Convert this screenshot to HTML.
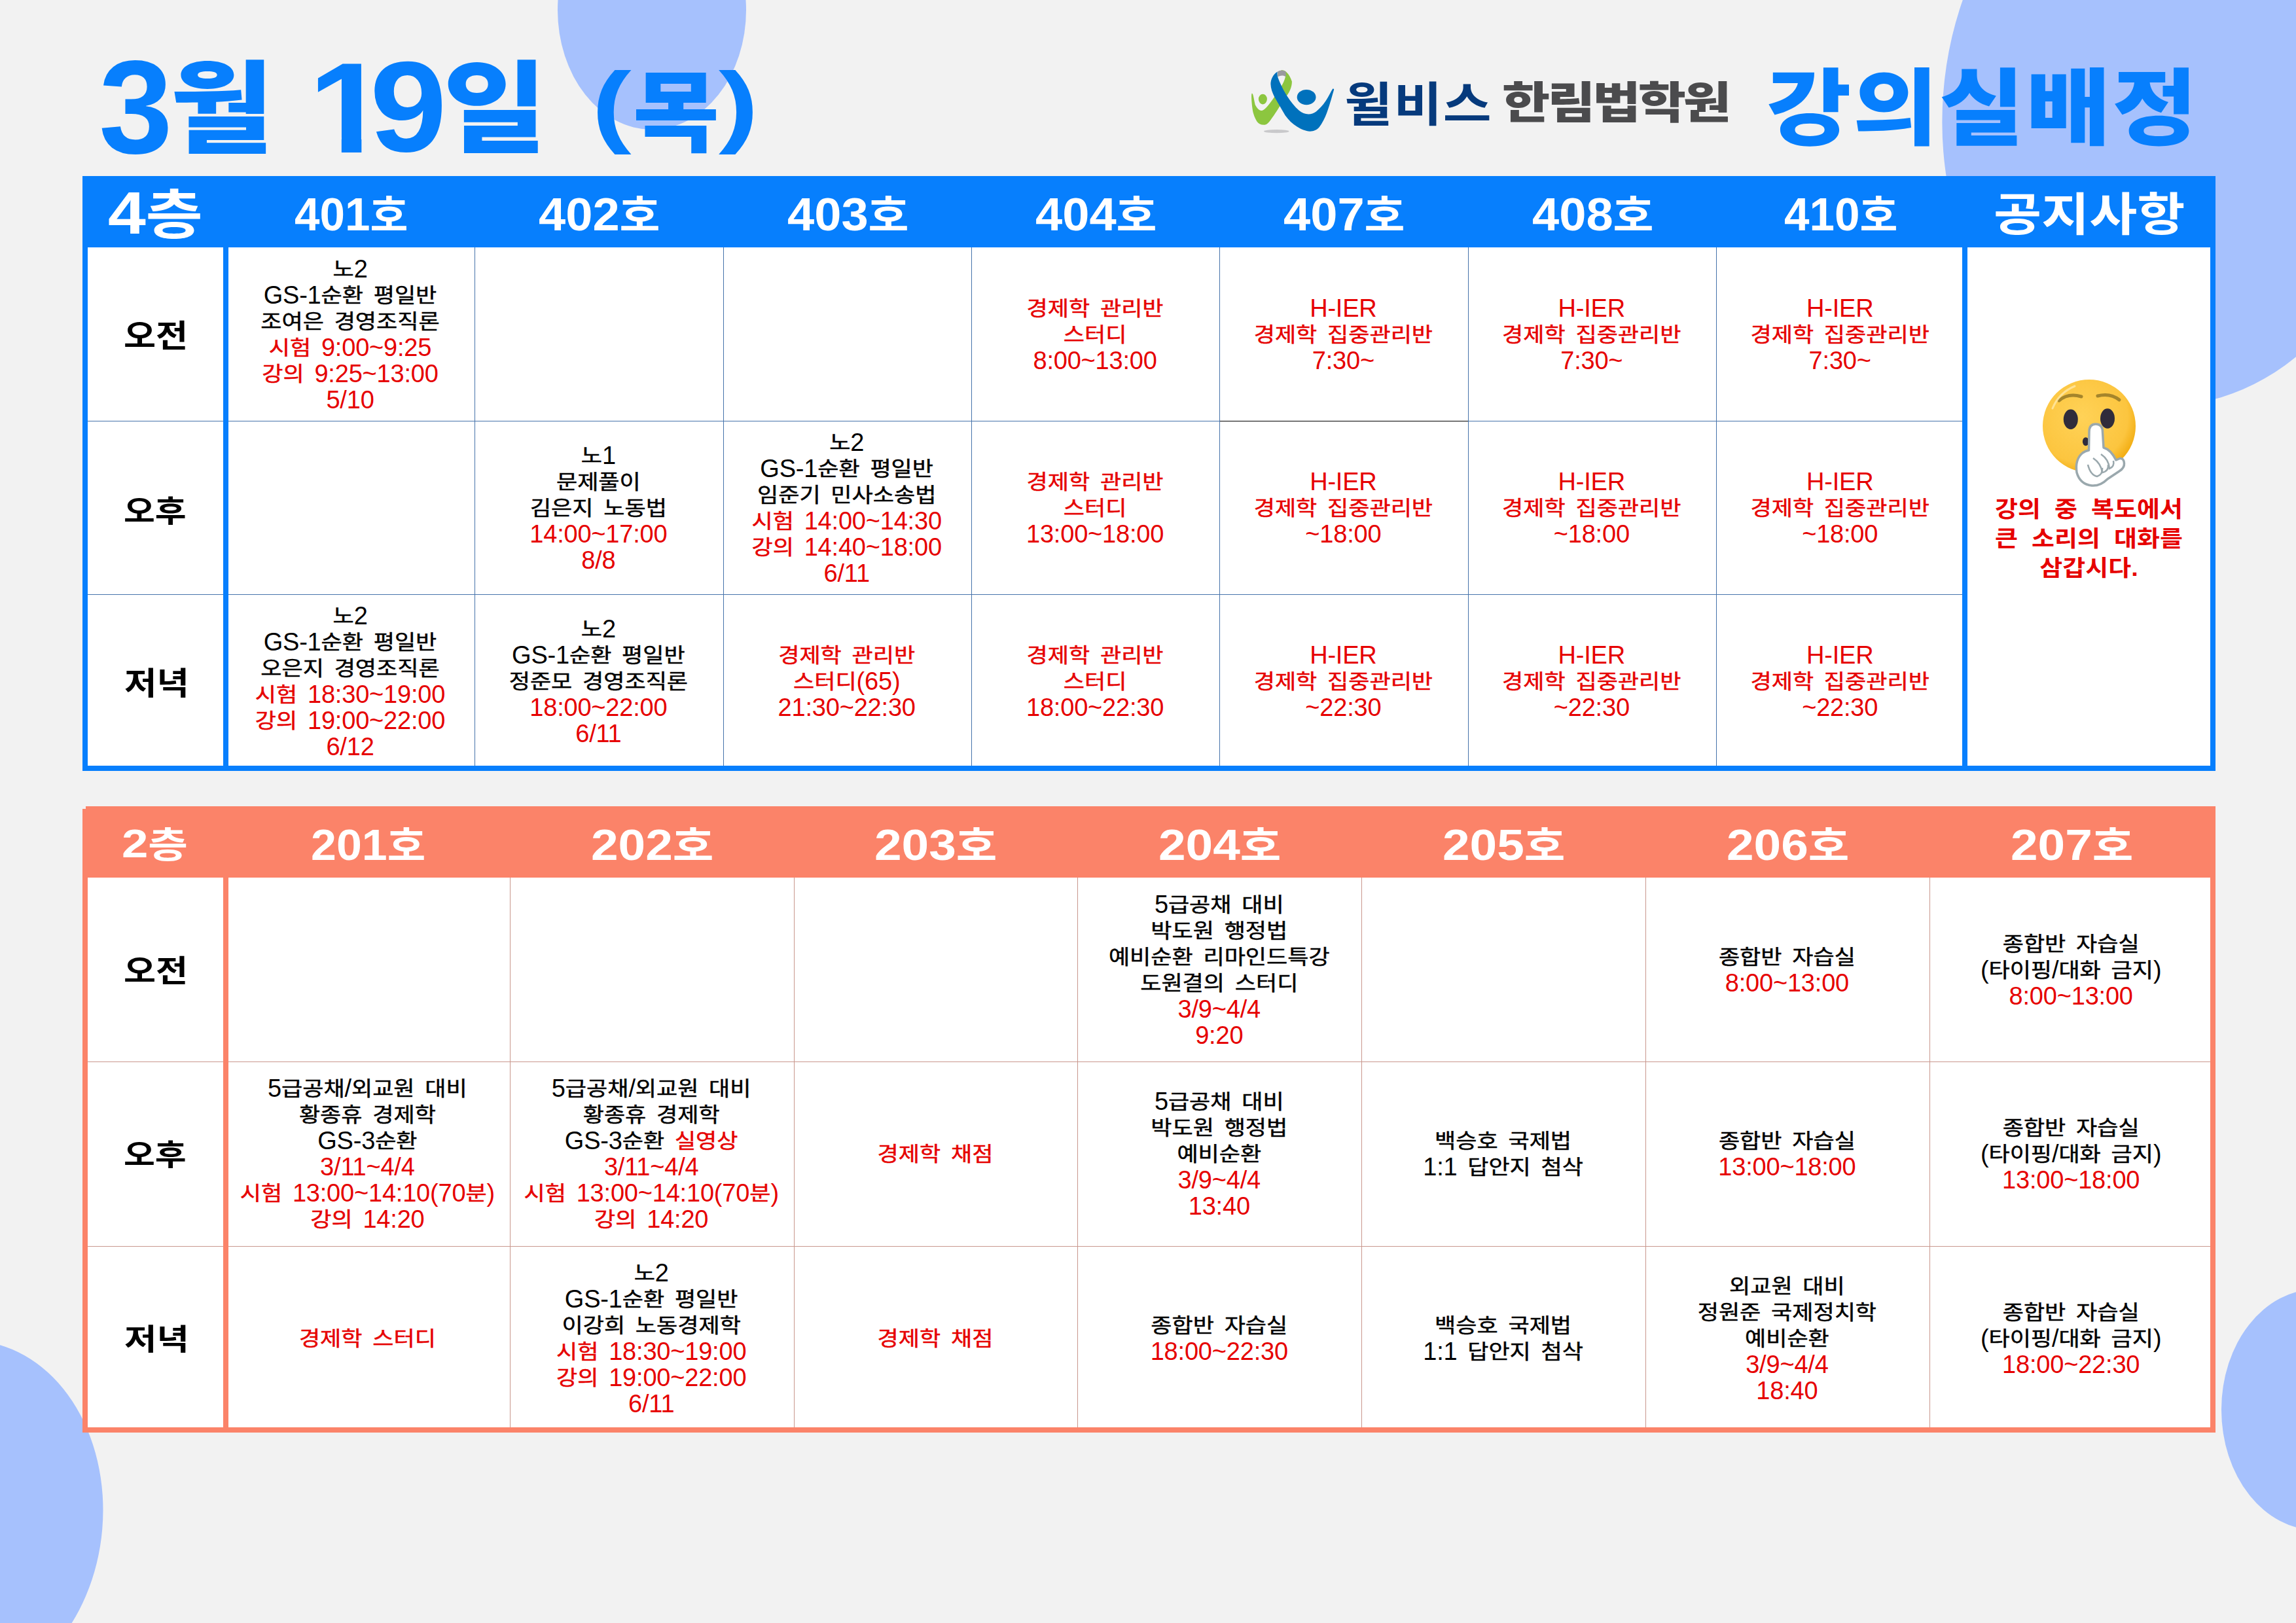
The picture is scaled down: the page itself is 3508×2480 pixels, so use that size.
<!DOCTYPE html><html lang="ko"><head><meta charset="utf-8"><title>3월 19일 (목) 강의실배정</title><style>
*{margin:0;padding:0;box-sizing:border-box}
html,body{width:3508px;height:2480px;overflow:hidden;background:#f2f2f2}
body{position:relative;font-family:"Liberation Sans","Noto Sans CJK KR",sans-serif;color:#000}
.abs{position:absolute}
.ell{position:absolute;border-radius:50%;background:#a6c1fd}
.cell{position:absolute;display:flex;align-items:center;justify-content:center;text-align:center;font-size:35px;line-height:40px;word-spacing:6px;white-space:nowrap}
.r{color:#e60000}
.vl,.hl{position:absolute}
.ft{position:absolute;line-height:1;white-space:nowrap;transform-origin:0 0}
.cell .d{font-size:38px;letter-spacing:-.2px;line-height:0}
.nl{transform:scaleY(.91)}
.k{display:inline-block;transform:translateY(-.4px) scaleY(.875);-webkit-text-stroke:.55px}
</style></head><body>
<div class="ell" style="left:852.0px;top:-167.2px;width:288.0px;height:365.4px;transform:rotate(0deg)"></div>
<div class="ell" style="left:2968.0px;top:-280.0px;width:710.0px;height:900.0px;transform:rotate(4.3deg)"></div>
<div class="ell" style="left:-270.1px;top:2048.0px;width:427.2px;height:541.4px;transform:rotate(4.9deg)"></div>
<div class="ell" style="left:3394.0px;top:1969.5px;width:290.0px;height:368.0px;transform:rotate(0deg)"></div>
<div id="t1" aria-label="3월 19일 (목)">
<div class="ft" style="left:150.6px;top:63.3px;font-size:202.3px;font-weight:700;color:#077ffd;transform:scaleX(1.002);">3</div>
<div class="ft" style="left:260.2px;top:91.3px;font-size:153.2px;font-weight:900;color:#077ffd;transform:scaleX(1.117);">월</div>
<div class="ft" style="left:470.6px;top:66.1px;font-size:197.5px;font-weight:700;color:#077ffd;transform:scaleX(1.105);clip-path:polygon(0 0,120px 0,120px 144px,73.6px 144px,73.6px 200px,46px 200px,46px 144px,0 144px)">1</div>
<div class="ft" style="left:564.6px;top:65.0px;font-size:196.5px;font-weight:700;color:#077ffd;transform:scaleX(1.077);">9</div>
<div class="ft" style="left:677.2px;top:92.0px;font-size:152.9px;font-weight:900;color:#077ffd;transform:scaleX(1.127);">일</div>
<div class="ft" style="left:904.2px;top:91.2px;font-size:137.4px;font-weight:700;color:#077ffd;transform:scaleX(1.325);">(</div>
<div class="ft" style="left:967.0px;top:106.7px;font-size:135.7px;font-weight:900;color:#077ffd;transform:scaleX(1.058);">목</div>
<div class="ft" style="left:1097.6px;top:91.2px;font-size:137.4px;font-weight:700;color:#077ffd;transform:scaleX(1.333);">)</div>
</div>
<div class="ft" style="left:2699.4px;top:103.8px;font-size:127.1px;font-weight:900;color:#077ffd;transform:scaleX(1.106);letter-spacing:0.02em">강의실배정</div>
<svg class="abs" id="logo" style="left:1900px;top:95px" width="150" height="120" viewBox="0 0 150 120"><ellipse cx="50.3" cy="105.7" rx="19.2" ry="2.6" fill="#c9c9cb"/><path d="M12.6 47.7 C14.5 47 15 52 17.7 65 C21 71 24 74.5 28.1 73.9 C33 73 40 63 45.5 55.4 L57.7 37 C60 33 63 27 64 22 C61 17 56 18 52.5 21 C52 17 56 12.5 58.5 12.3 C64 12 70 18 73.9 29.6 C74 38 70 46 66.2 51 L54 69.5 C48 79 44 85 39.9 90.2 C36 95 33 96 31 95.7 C26 95.5 23 94 20.7 90.9 C16.5 84 14.8 78 14 73.9 C12.6 65 11.3 50 12.6 47.7Z" fill="#8cc63f"/><path d="M52 14.6 C55 12 61 11.6 64.6 14.6 L64.8 22.5 C61 19.8 56 20 52.3 22.6Z" fill="#9a9a9e"/><ellipse cx="29.4" cy="56.6" rx="6.5" ry="7.8" fill="#8cc63f"/><path d="M51.7 14.4 C45 19 41.5 26 41.4 33.3 C41.5 40 44 47 47.3 53.2 L63.6 81.3 C69 89 75 94.5 81.3 98.3 C88 102.5 95 105.5 101.3 105.7 C107 105.8 112 103.5 115.3 99.8 C120 94 124 86 127.2 77.6 C131 67 133.5 58 135.3 51.7 C136.5 47 138 43 138.2 41.4 C137.5 40.3 136.5 40.5 136 41 C133 46 129.5 53 125.7 59.1 C121 66 116 71.5 110.9 75.4 C107 78.3 103 79.6 99.1 79.5 C94 79.3 89 77 85 73.9 C78 68 72 60 66.5 51.7 C62.5 45.5 59 39 56.2 32.5 C54.5 28.5 53 25 52.1 22.2 C51.5 19.5 51.4 16.5 51.7 14.4Z" fill="#0071bc"/><ellipse cx="96.1" cy="53.6" rx="14.4" ry="11.7" fill="#0071bc"/></svg>
<div class="ft" style="left:2054.1px;top:124.6px;font-size:71.5px;font-weight:700;color:#063a7c;transform:scaleX(1.122);letter-spacing:0.02em">윌비스</div>
<div class="ft" style="left:2295.2px;top:125.3px;font-size:66.7px;font-weight:900;color:#4b4b4d;transform:scaleX(1.193);letter-spacing:-0.05em">한림법학원</div>
<div class="abs" style="left:126px;top:269px;width:3259px;height:909px;background:#077ffd"></div>
<div class="abs" style="left:134px;top:378px;width:207px;height:792px;background:#fff"></div>
<div class="abs" style="left:349px;top:378px;width:2649px;height:792px;background:#fff"></div>
<div class="abs" style="left:3006px;top:378px;width:371px;height:792px;background:#fff"></div>
<div class="vl" style="left:725px;top:378px;width:1px;height:792px;background:#4673ab"></div>
<div class="vl" style="left:1105px;top:378px;width:1px;height:792px;background:#4673ab"></div>
<div class="vl" style="left:1484px;top:378px;width:1px;height:792px;background:#4673ab"></div>
<div class="vl" style="left:1863px;top:378px;width:1px;height:792px;background:#4673ab"></div>
<div class="vl" style="left:2243px;top:378px;width:1px;height:792px;background:#4673ab"></div>
<div class="vl" style="left:2622px;top:378px;width:1px;height:792px;background:#4673ab"></div>
<div class="hl" style="left:134px;top:643px;width:207px;height:1px;background:#4673ab"></div>
<div class="hl" style="left:349px;top:643px;width:2649px;height:1px;background:#4673ab"></div>
<div class="hl" style="left:134px;top:908px;width:207px;height:1px;background:#4673ab"></div>
<div class="hl" style="left:349px;top:908px;width:2649px;height:1px;background:#4673ab"></div>
<div class="ft" style="left:165.4px;top:280.5px;font-size:81.8px;font-weight:700;color:#fff;transform:scaleX(1.156);"><span style="font-size:1.1em">4</span>층</div>
<div class="ft" style="left:450.0px;top:294.0px;font-size:63.3px;font-weight:700;color:#fff;transform:scaleX(0.994);"><span style="font-size:1.1em">401</span>호</div>
<div class="ft" style="left:823.3px;top:294.0px;font-size:63.3px;font-weight:700;color:#fff;transform:scaleX(1.064);"><span style="font-size:1.1em">402</span>호</div>
<div class="ft" style="left:1202.7px;top:294.0px;font-size:63.3px;font-weight:700;color:#fff;transform:scaleX(1.064);"><span style="font-size:1.1em">403</span>호</div>
<div class="ft" style="left:1582.0px;top:294.0px;font-size:63.3px;font-weight:700;color:#fff;transform:scaleX(1.064);"><span style="font-size:1.1em">404</span>호</div>
<div class="ft" style="left:1961.4px;top:294.0px;font-size:63.3px;font-weight:700;color:#fff;transform:scaleX(1.064);"><span style="font-size:1.1em">407</span>호</div>
<div class="ft" style="left:2340.8px;top:294.0px;font-size:63.3px;font-weight:700;color:#fff;transform:scaleX(1.064);"><span style="font-size:1.1em">408</span>호</div>
<div class="ft" style="left:2726.2px;top:294.0px;font-size:63.3px;font-weight:700;color:#fff;transform:scaleX(0.994);"><span style="font-size:1.1em">410</span>호</div>
<div class="ft" style="left:189.4px;top:488.8px;font-size:48.1px;font-weight:700;color:#000;transform:scaleX(1.109);">오전</div>
<div class="ft" style="left:189.4px;top:757.8px;font-size:46.0px;font-weight:700;color:#000;transform:scaleX(1.130);">오후</div>
<div class="ft" style="left:189.9px;top:1020.8px;font-size:48.0px;font-weight:700;color:#000;transform:scaleX(1.119);">저녁</div>
<div class="cell" style="left:345.3px;top:379.0px;width:379.4px;height:265.4px"><div><div><span class="k">노</span><span class="d">2</span></div><div><span class="d">GS-1</span><span class="k">순환</span> <span class="k">평일반</span></div><div><span class="k">조여은</span> <span class="k">경영조직론</span></div><div class="r"><span class="k">시험</span> <span class="d">9:00~9:25</span></div><div class="r"><span class="k">강의</span> <span class="d">9:25~13:00</span></div><div class="r"><span class="d">5/10</span></div></div></div>
<div class="cell" style="left:1483.4px;top:379.0px;width:379.4px;height:265.4px"><div><div class="r"><span class="k">경제학</span> <span class="k">관리반</span></div><div class="r"><span class="k">스터디</span></div><div class="r"><span class="d">8:00~13:00</span></div></div></div>
<div class="cell" style="left:1862.7px;top:379.0px;width:379.4px;height:265.4px"><div><div class="r"><span class="d">H-IER</span></div><div class="r"><span class="k">경제학</span> <span class="k">집중관리반</span></div><div class="r"><span class="d">7:30~</span></div></div></div>
<div class="cell" style="left:2242.1px;top:379.0px;width:379.4px;height:265.4px"><div><div class="r"><span class="d">H-IER</span></div><div class="r"><span class="k">경제학</span> <span class="k">집중관리반</span></div><div class="r"><span class="d">7:30~</span></div></div></div>
<div class="cell" style="left:2621.5px;top:379.0px;width:379.4px;height:265.4px"><div><div class="r"><span class="d">H-IER</span></div><div class="r"><span class="k">경제학</span> <span class="k">집중관리반</span></div><div class="r"><span class="d">7:30~</span></div></div></div>
<div class="cell" style="left:724.7px;top:644.4px;width:379.4px;height:265.2px"><div><div><span class="k">노</span><span class="d">1</span></div><div><span class="k">문제풀이</span></div><div><span class="k">김은지</span> <span class="k">노동법</span></div><div class="r"><span class="d">14:00~17:00</span></div><div class="r"><span class="d">8/8</span></div></div></div>
<div class="cell" style="left:1104.0px;top:644.4px;width:379.4px;height:265.2px"><div><div><span class="k">노</span><span class="d">2</span></div><div><span class="d">GS-1</span><span class="k">순환</span> <span class="k">평일반</span></div><div><span class="k">임준기</span> <span class="k">민사소송법</span></div><div class="r"><span class="k">시험</span> <span class="d">14:00~14:30</span></div><div class="r"><span class="k">강의</span> <span class="d">14:40~18:00</span></div><div class="r"><span class="d">6/11</span></div></div></div>
<div class="cell" style="left:1483.4px;top:644.4px;width:379.4px;height:265.2px"><div><div class="r"><span class="k">경제학</span> <span class="k">관리반</span></div><div class="r"><span class="k">스터디</span></div><div class="r"><span class="d">13:00~18:00</span></div></div></div>
<div class="cell" style="left:1862.7px;top:644.4px;width:379.4px;height:265.2px"><div><div class="r"><span class="d">H-IER</span></div><div class="r"><span class="k">경제학</span> <span class="k">집중관리반</span></div><div class="r"><span class="d">~18:00</span></div></div></div>
<div class="cell" style="left:2242.1px;top:644.4px;width:379.4px;height:265.2px"><div><div class="r"><span class="d">H-IER</span></div><div class="r"><span class="k">경제학</span> <span class="k">집중관리반</span></div><div class="r"><span class="d">~18:00</span></div></div></div>
<div class="cell" style="left:2621.5px;top:644.4px;width:379.4px;height:265.2px"><div><div class="r"><span class="d">H-IER</span></div><div class="r"><span class="k">경제학</span> <span class="k">집중관리반</span></div><div class="r"><span class="d">~18:00</span></div></div></div>
<div class="cell" style="left:345.3px;top:909.6px;width:379.4px;height:265.4px"><div><div><span class="k">노</span><span class="d">2</span></div><div><span class="d">GS-1</span><span class="k">순환</span> <span class="k">평일반</span></div><div><span class="k">오은지</span> <span class="k">경영조직론</span></div><div class="r"><span class="k">시험</span> <span class="d">18:30~19:00</span></div><div class="r"><span class="k">강의</span> <span class="d">19:00~22:00</span></div><div class="r"><span class="d">6/12</span></div></div></div>
<div class="cell" style="left:724.7px;top:909.6px;width:379.4px;height:265.4px"><div><div><span class="k">노</span><span class="d">2</span></div><div><span class="d">GS-1</span><span class="k">순환</span> <span class="k">평일반</span></div><div><span class="k">정준모</span> <span class="k">경영조직론</span></div><div class="r"><span class="d">18:00~22:00</span></div><div class="r"><span class="d">6/11</span></div></div></div>
<div class="cell" style="left:1104.0px;top:909.6px;width:379.4px;height:265.4px"><div><div class="r"><span class="k">경제학</span> <span class="k">관리반</span></div><div class="r"><span class="k">스터디</span><span class="d">(65)</span></div><div class="r"><span class="d">21:30~22:30</span></div></div></div>
<div class="cell" style="left:1483.4px;top:909.6px;width:379.4px;height:265.4px"><div><div class="r"><span class="k">경제학</span> <span class="k">관리반</span></div><div class="r"><span class="k">스터디</span></div><div class="r"><span class="d">18:00~22:30</span></div></div></div>
<div class="cell" style="left:1862.7px;top:909.6px;width:379.4px;height:265.4px"><div><div class="r"><span class="d">H-IER</span></div><div class="r"><span class="k">경제학</span> <span class="k">집중관리반</span></div><div class="r"><span class="d">~22:30</span></div></div></div>
<div class="cell" style="left:2242.1px;top:909.6px;width:379.4px;height:265.4px"><div><div class="r"><span class="d">H-IER</span></div><div class="r"><span class="k">경제학</span> <span class="k">집중관리반</span></div><div class="r"><span class="d">~22:30</span></div></div></div>
<div class="cell" style="left:2621.5px;top:909.6px;width:379.4px;height:265.4px"><div><div class="r"><span class="d">H-IER</span></div><div class="r"><span class="k">경제학</span> <span class="k">집중관리반</span></div><div class="r"><span class="d">~22:30</span></div></div></div>
<div class="abs" style="left:1864px;top:643px;width:379px;height:1px;background:#000"></div>
<div class="ft" style="left:3046.4px;top:293.6px;font-size:70.7px;font-weight:700;color:#fff;transform:scaleX(1.124);">공지사항</div>
<div class="abs" style="left:126px;top:1232px;width:3259px;height:957px;background:#fb8369"></div>
<div class="abs" style="left:134px;top:1341px;width:207px;height:840px;background:#fff"></div>
<div class="abs" style="left:349px;top:1341px;width:3028px;height:840px;background:#fff"></div>
<div class="vl" style="left:779px;top:1341px;width:1px;height:840px;background:#c9978d"></div>
<div class="vl" style="left:1213px;top:1341px;width:1px;height:840px;background:#c9978d"></div>
<div class="vl" style="left:1646px;top:1341px;width:1px;height:840px;background:#c9978d"></div>
<div class="vl" style="left:2080px;top:1341px;width:1px;height:840px;background:#c9978d"></div>
<div class="vl" style="left:2514px;top:1341px;width:1px;height:840px;background:#c9978d"></div>
<div class="vl" style="left:2948px;top:1341px;width:1px;height:840px;background:#c9978d"></div>
<div class="hl" style="left:134px;top:1622px;width:207px;height:1px;background:#c9978d"></div>
<div class="hl" style="left:349px;top:1622px;width:3028px;height:1px;background:#c9978d"></div>
<div class="hl" style="left:134px;top:1904px;width:207px;height:1px;background:#c9978d"></div>
<div class="hl" style="left:349px;top:1904px;width:3028px;height:1px;background:#c9978d"></div>
<div class="ft" style="left:186.1px;top:1259.2px;font-size:55.0px;font-weight:700;color:#fff;transform:scaleX(1.199);"><span style="font-size:1.1em">2</span>층</div>
<div class="ft" style="left:474.9px;top:1258.3px;font-size:60.6px;font-weight:700;color:#fff;transform:scaleX(1.049);"><span style="font-size:1.1em">201</span>호</div>
<div class="ft" style="left:902.5px;top:1258.3px;font-size:60.6px;font-weight:700;color:#fff;transform:scaleX(1.123);"><span style="font-size:1.1em">202</span>호</div>
<div class="ft" style="left:1336.3px;top:1258.3px;font-size:60.6px;font-weight:700;color:#fff;transform:scaleX(1.123);"><span style="font-size:1.1em">203</span>호</div>
<div class="ft" style="left:1770.1px;top:1258.3px;font-size:60.6px;font-weight:700;color:#fff;transform:scaleX(1.123);"><span style="font-size:1.1em">204</span>호</div>
<div class="ft" style="left:2203.9px;top:1258.3px;font-size:60.6px;font-weight:700;color:#fff;transform:scaleX(1.123);"><span style="font-size:1.1em">205</span>호</div>
<div class="ft" style="left:2637.7px;top:1258.3px;font-size:60.6px;font-weight:700;color:#fff;transform:scaleX(1.123);"><span style="font-size:1.1em">206</span>호</div>
<div class="ft" style="left:3071.5px;top:1258.3px;font-size:60.6px;font-weight:700;color:#fff;transform:scaleX(1.123);"><span style="font-size:1.1em">207</span>호</div>
<div class="ft" style="left:189.4px;top:1461.3px;font-size:46.4px;font-weight:700;color:#000;transform:scaleX(1.149);">오전</div>
<div class="ft" style="left:189.4px;top:1743.1px;font-size:45.4px;font-weight:700;color:#000;transform:scaleX(1.146);">오후</div>
<div class="ft" style="left:189.9px;top:2025.3px;font-size:45.5px;font-weight:700;color:#000;transform:scaleX(1.180);">저녁</div>
<div class="cell" style="left:1645.9px;top:1342.0px;width:433.8px;height:281.4px"><div><div><span class="d">5</span><span class="k">급공채</span> <span class="k">대비</span></div><div><span class="k">박도원</span> <span class="k">행정법</span></div><div><span class="k">예비순환</span> <span class="k">리마인드특강</span></div><div><span class="k">도원결의</span> <span class="k">스터디</span></div><div class="r"><span class="d">3/9~4/4</span></div><div class="r"><span class="d">9:20</span></div></div></div>
<div class="cell" style="left:2513.5px;top:1342.0px;width:433.8px;height:281.4px"><div><div><span class="k">종합반</span> <span class="k">자습실</span></div><div class="r"><span class="d">8:00~13:00</span></div></div></div>
<div class="cell" style="left:2947.3px;top:1342.0px;width:433.8px;height:281.4px"><div><div><span class="k">종합반</span> <span class="k">자습실</span></div><div><span class="d">(</span><span class="k">타이핑</span><span class="d">/</span><span class="k">대화</span> <span class="k">금지</span><span class="d">)</span></div><div class="r"><span class="d">8:00~13:00</span></div></div></div>
<div class="cell" style="left:344.5px;top:1623.4px;width:433.8px;height:281.9px"><div><div><span class="d">5</span><span class="k">급공채</span><span class="d">/</span><span class="k">외교원</span> <span class="k">대비</span></div><div><span class="k">황종휴</span> <span class="k">경제학</span></div><div><span class="d">GS-3</span><span class="k">순환</span></div><div class="r"><span class="d">3/11~4/4</span></div><div class="r"><span class="k">시험</span> <span class="d">13:00~14:10(70</span><span class="k">분</span><span class="d">)</span></div><div class="r"><span class="k">강의</span> <span class="d">14:20</span></div></div></div>
<div class="cell" style="left:778.3px;top:1623.4px;width:433.8px;height:281.9px"><div><div><span class="d">5</span><span class="k">급공채</span><span class="d">/</span><span class="k">외교원</span> <span class="k">대비</span></div><div><span class="k">황종휴</span> <span class="k">경제학</span></div><div><span class="d">GS-3</span><span class="k">순환</span> <span class="r"><span class="k">실영상</span></span></div><div class="r"><span class="d">3/11~4/4</span></div><div class="r"><span class="k">시험</span> <span class="d">13:00~14:10(70</span><span class="k">분</span><span class="d">)</span></div><div class="r"><span class="k">강의</span> <span class="d">14:20</span></div></div></div>
<div class="cell" style="left:1212.1px;top:1623.4px;width:433.8px;height:281.9px"><div><div class="r"><span class="k">경제학</span> <span class="k">채점</span></div></div></div>
<div class="cell" style="left:1645.9px;top:1623.4px;width:433.8px;height:281.9px"><div><div><span class="d">5</span><span class="k">급공채</span> <span class="k">대비</span></div><div><span class="k">박도원</span> <span class="k">행정법</span></div><div><span class="k">예비순환</span></div><div class="r"><span class="d">3/9~4/4</span></div><div class="r"><span class="d">13:40</span></div></div></div>
<div class="cell" style="left:2079.7px;top:1623.4px;width:433.8px;height:281.9px"><div><div><span class="k">백승호</span> <span class="k">국제법</span></div><div><span class="d">1:1</span> <span class="k">답안지</span> <span class="k">첨삭</span></div></div></div>
<div class="cell" style="left:2513.5px;top:1623.4px;width:433.8px;height:281.9px"><div><div><span class="k">종합반</span> <span class="k">자습실</span></div><div class="r"><span class="d">13:00~18:00</span></div></div></div>
<div class="cell" style="left:2947.3px;top:1623.4px;width:433.8px;height:281.9px"><div><div><span class="k">종합반</span> <span class="k">자습실</span></div><div><span class="d">(</span><span class="k">타이핑</span><span class="d">/</span><span class="k">대화</span> <span class="k">금지</span><span class="d">)</span></div><div class="r"><span class="d">13:00~18:00</span></div></div></div>
<div class="cell" style="left:344.5px;top:1905.3px;width:433.8px;height:280.7px"><div><div class="r"><span class="k">경제학</span> <span class="k">스터디</span></div></div></div>
<div class="cell" style="left:778.3px;top:1905.3px;width:433.8px;height:280.7px"><div><div><span class="k">노</span><span class="d">2</span></div><div><span class="d">GS-1</span><span class="k">순환</span> <span class="k">평일반</span></div><div><span class="k">이강희</span> <span class="k">노동경제학</span></div><div class="r"><span class="k">시험</span> <span class="d">18:30~19:00</span></div><div class="r"><span class="k">강의</span> <span class="d">19:00~22:00</span></div><div class="r"><span class="d">6/11</span></div></div></div>
<div class="cell" style="left:1212.1px;top:1905.3px;width:433.8px;height:280.7px"><div><div class="r"><span class="k">경제학</span> <span class="k">채점</span></div></div></div>
<div class="cell" style="left:1645.9px;top:1905.3px;width:433.8px;height:280.7px"><div><div><span class="k">종합반</span> <span class="k">자습실</span></div><div class="r"><span class="d">18:00~22:30</span></div></div></div>
<div class="cell" style="left:2079.7px;top:1905.3px;width:433.8px;height:280.7px"><div><div><span class="k">백승호</span> <span class="k">국제법</span></div><div><span class="d">1:1</span> <span class="k">답안지</span> <span class="k">첨삭</span></div></div></div>
<div class="cell" style="left:2513.5px;top:1905.3px;width:433.8px;height:280.7px"><div><div><span class="k">외교원</span> <span class="k">대비</span></div><div><span class="k">정원준</span> <span class="k">국제정치학</span></div><div><span class="k">예비순환</span></div><div class="r"><span class="d">3/9~4/4</span></div><div class="r"><span class="d">18:40</span></div></div></div>
<div class="cell" style="left:2947.3px;top:1905.3px;width:433.8px;height:280.7px"><div><div><span class="k">종합반</span> <span class="k">자습실</span></div><div><span class="d">(</span><span class="k">타이핑</span><span class="d">/</span><span class="k">대화</span> <span class="k">금지</span><span class="d">)</span></div><div class="r"><span class="d">18:00~22:30</span></div></div></div>
<div class="abs" style="left:126px;top:1232px;width:5px;height:4px;background:#f2f2f2"></div>
<svg class="abs" id="emoji" style="left:3112px;top:572px" width="160" height="180" viewBox="0 0 160 180"><defs><radialGradient id="fg" cx="0.42" cy="0.4" r="0.62"><stop offset="0" stop-color="#ffd257"/><stop offset="0.8" stop-color="#fcc53f"/><stop offset="1" stop-color="#f2ae14"/></radialGradient></defs><circle cx="80" cy="79" r="71" fill="url(#fg)"/><path d="M34 40 Q48 28 68 34" stroke="#a5852b" stroke-width="5" fill="none" stroke-linecap="round"/><path d="M93 33 Q112 28 126 39" stroke="#a5852b" stroke-width="5" fill="none" stroke-linecap="round"/><ellipse cx="51.8" cy="68.7" rx="11" ry="15.2" fill="#302c3b"/><ellipse cx="108" cy="67.5" rx="11" ry="15.2" fill="#302c3b"/><ellipse cx="74.7" cy="102.7" rx="4.8" ry="6.5" fill="#302c3b"/><path d="M79.5 116 L80 88 Q80 76 90 76 Q100.5 76 100.5 88 L102 112 Q113 115 121 131 L127 128.5 Q133 128 133.5 136 Q134 143 126 148 L108 160 Q97 171 84 170 Q66 168 61 150 Q58 130 70 120 Q74 117 79.5 116Z" fill="#fff" stroke="#9aa8ad" stroke-width="3.5" stroke-linejoin="round"/><path d="M78 138 Q82 154 92 156 Q101 153 100 143" fill="none" stroke="#9aa8ad" stroke-width="2.6"/><path d="M86 128 Q98 136 100 150 Q110 148 109 138" fill="none" stroke="#9aa8ad" stroke-width="2.6"/><path d="M98 122 Q110 130 111 144 Q119 141 117 132" fill="none" stroke="#9aa8ad" stroke-width="2.6"/><path d="M24 52 Q34 28 58 18" fill="none" stroke="#ffe9a8" stroke-width="3" stroke-linecap="round" opacity=".8"/></svg>
<div class="abs r" id="ntx" style="left:3006px;top:756px;width:371px;text-align:center;font-weight:700;font-size:38px;line-height:45px;word-spacing:10.5px;white-space:nowrap"><div class="nl">강의 중 복도에서</div><div class="nl">큰 소리의 대화를</div><div class="nl">삼갑시다.</div></div>
</body></html>
